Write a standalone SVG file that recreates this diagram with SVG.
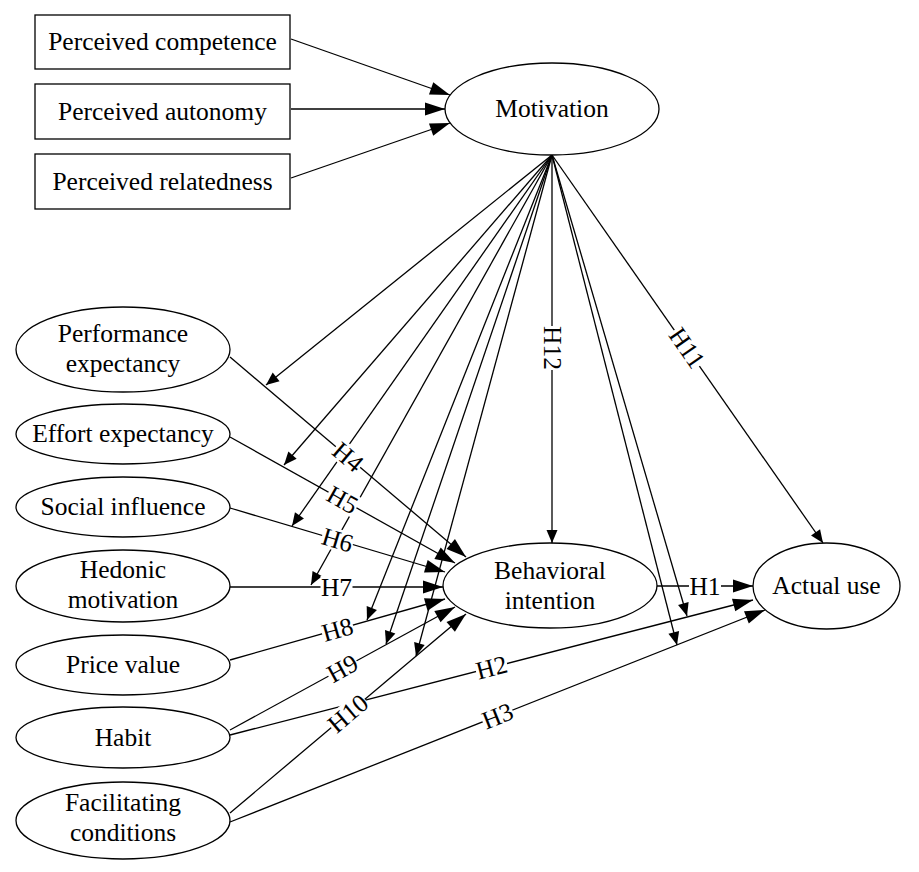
<svg xmlns="http://www.w3.org/2000/svg" width="919" height="872" viewBox="0 0 919 872">
<style>
 .box{fill:#fff;stroke:#000;stroke-width:1.3}
 .ell{fill:#fff;stroke:#000;stroke-width:1.3}
 text{font-family:"Liberation Serif","Times New Roman",serif;font-size:25.5px;fill:#000;text-anchor:middle}
 .edge{stroke:#000;stroke-width:1.3;fill:none}
 .big{marker-end:url(#ah)}
 .small{marker-end:url(#as)}
 .lbl rect{fill:#fff;stroke:none}
</style>
<defs>
 <marker id="ah" markerUnits="userSpaceOnUse" markerWidth="22" markerHeight="15" refX="20" refY="7" orient="auto" overflow="visible"><path d="M0,0.5 L20,7 L0,13.5 z" fill="#000"/></marker>
 <marker id="as" markerUnits="userSpaceOnUse" markerWidth="15" markerHeight="13" refX="13" refY="5.5" orient="auto" overflow="visible"><path d="M0,0 L13,5.5 L0,11 z" fill="#000"/></marker>
</defs>
<rect width="919" height="872" fill="#fff"/>

<g id="connectors">
 <line class="edge big" x1="291" y1="39" x2="450" y2="95"/>
 <line class="edge big" x1="291" y1="109" x2="445" y2="109"/>
 <line class="edge big" x1="291" y1="178" x2="450" y2="123"/>

 <line class="edge big" x1="230" y1="357" x2="466" y2="557"/>
 <line class="edge big" x1="230" y1="437" x2="455" y2="563"/>
 <line class="edge big" x1="230" y1="508" x2="445" y2="572"/>
 <line class="edge big" x1="230" y1="587" x2="443" y2="587"/>
 <line class="edge big" x1="230" y1="660" x2="445" y2="599"/>
 <line class="edge big" x1="230" y1="730" x2="455" y2="607"/>
 <line class="edge big" x1="230" y1="813" x2="466" y2="614"/>
 <line class="edge big" x1="230" y1="735" x2="753" y2="600"/>
 <line class="edge big" x1="230" y1="822" x2="765" y2="610"/>
 <line class="edge big" x1="657" y1="586" x2="753" y2="586"/>

 <line class="edge small" x1="552" y1="155" x2="266" y2="385"/>
 <line class="edge small" x1="552" y1="155" x2="284" y2="465"/>
 <line class="edge small" x1="552" y1="155" x2="292" y2="526"/>
 <line class="edge small" x1="552" y1="155" x2="311" y2="585"/>
 <line class="edge small" x1="552" y1="155" x2="367" y2="620"/>
 <line class="edge small" x1="552" y1="155" x2="386" y2="644"/>
 <line class="edge small" x1="552" y1="155" x2="416" y2="656"/>
 <line class="edge small" x1="552" y1="155" x2="552" y2="543"/>
 <line class="edge small" x1="552" y1="155" x2="687" y2="616"/>
 <line class="edge small" x1="552" y1="155" x2="677" y2="645"/>
 <line class="edge small" x1="552" y1="155" x2="823" y2="543"/>

 <g class="lbl" transform="translate(348,457) rotate(40.3)"><rect x="-16" y="-11" width="32" height="22"/><text y="8.5">H4</text></g>
 <g class="lbl" transform="translate(342.5,500) rotate(29.2)"><rect x="-16" y="-11" width="32" height="22"/><text y="8.5">H5</text></g>
 <g class="lbl" transform="translate(337.5,540) rotate(16.6)"><rect x="-16" y="-11" width="32" height="22"/><text y="8.5">H6</text></g>
 <g class="lbl" transform="translate(336.5,587)"><rect x="-16" y="-11" width="32" height="22"/><text y="8.5">H7</text></g>
 <g class="lbl" transform="translate(337.5,629.5) rotate(-15.8)"><rect x="-16" y="-11" width="32" height="22"/><text y="8.5">H8</text></g>
 <g class="lbl" transform="translate(342.5,668.5) rotate(-28.7)"><rect x="-16" y="-11" width="32" height="22"/><text y="8.5">H9</text></g>
 <g class="lbl" transform="translate(348,713.5) rotate(-40.1)"><rect x="-22" y="-11" width="44" height="22"/><text y="8.5">H10</text></g>
 <g class="lbl" transform="translate(491.5,667.5) rotate(-14.5)"><rect x="-16" y="-11" width="32" height="22"/><text y="8.5">H2</text></g>
 <g class="lbl" transform="translate(497.5,716) rotate(-21.6)"><rect x="-16" y="-11" width="32" height="22"/><text y="8.5">H3</text></g>
 <g class="lbl" transform="translate(705,586)"><rect x="-16" y="-11" width="32" height="22"/><text y="8.5">H1</text></g>
 <g class="lbl" transform="translate(552,348) rotate(90)"><rect x="-22" y="-11" width="44" height="22"/><text y="8.5">H12</text></g>
 <g class="lbl" transform="translate(687,348) rotate(55.2)"><rect x="-22" y="-11" width="44" height="22"/><text y="8.5">H11</text></g>
</g>

<g id="perceived-competence"><rect class="box" x="35" y="15" width="255" height="54"/><text x="162.5" y="50">Perceived competence</text></g>
<g id="perceived-autonomy"><rect class="box" x="35" y="84" width="255" height="55"/><text x="162.5" y="119.5">Perceived autonomy</text></g>
<g id="perceived-relatedness"><rect class="box" x="35" y="154" width="255" height="55"/><text x="162.5" y="189.5">Perceived relatedness</text></g>

<g id="motivation"><ellipse class="ell" cx="552" cy="109" rx="107" ry="46"/><text x="552" y="117">Motivation</text></g>

<g id="performance-expectancy"><ellipse class="ell" cx="123" cy="349.5" rx="107" ry="42.5"/><text x="123" y="342">Performance</text><text x="123" y="372">expectancy</text></g>
<g id="effort-expectancy"><ellipse class="ell" cx="123" cy="434" rx="107" ry="30"/><text x="123" y="442">Effort expectancy</text></g>
<g id="social-influence"><ellipse class="ell" cx="123" cy="507" rx="107" ry="30"/><text x="123" y="515">Social influence</text></g>
<g id="hedonic-motivation"><ellipse class="ell" cx="123" cy="586" rx="107" ry="36"/><text x="123" y="578">Hedonic</text><text x="123" y="608">motivation</text></g>
<g id="price-value"><ellipse class="ell" cx="123" cy="665" rx="107" ry="30"/><text x="123" y="673">Price value</text></g>
<g id="habit"><ellipse class="ell" cx="123" cy="737.5" rx="107" ry="30.5"/><text x="123" y="745.5">Habit</text></g>
<g id="facilitating-conditions"><ellipse class="ell" cx="123" cy="820.5" rx="107" ry="38.5"/><text x="123" y="811">Facilitating</text><text x="123" y="841">conditions</text></g>

<g id="behavioral-intention"><ellipse class="ell" cx="550" cy="585.5" rx="107" ry="42.5"/><text x="550" y="578.5">Behavioral</text><text x="550" y="608.5">intention</text></g>
<g id="actual-use"><ellipse class="ell" cx="826.5" cy="586" rx="73.5" ry="43"/><text x="826.5" y="594">Actual use</text></g>
</svg>
